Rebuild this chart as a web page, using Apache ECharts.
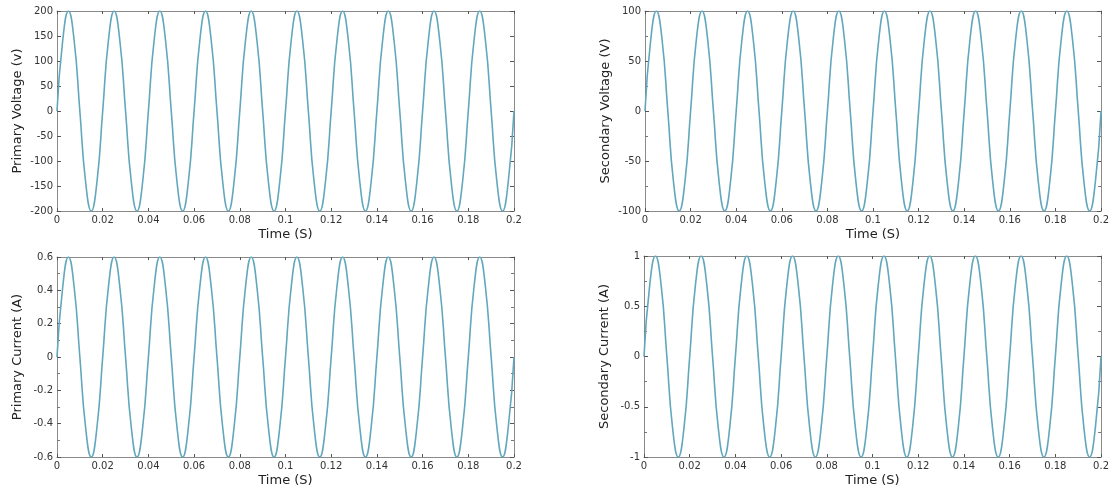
<!DOCTYPE html>
<html>
<head>
<meta charset="utf-8">
<script src="https://cdn.jsdelivr.net/npm/echarts@6/dist/echarts.min.js"></script>
<style>
  html, body { margin: 0; padding: 0; background: #fff; }
  #main { width: 1112px; height: 488px; }
</style>
</head>
<body>
<div id="main"></div>
<script>
// time samples (s), one every 1/8 of a 50 Hz cycle
var times = [
  0, 0.0025, 0.005, 0.0075, 0.01, 0.0125, 0.015, 0.0175,
  0.02, 0.0225, 0.025, 0.0275, 0.03, 0.0325, 0.035, 0.0375,
  0.04, 0.0425, 0.045, 0.0475, 0.05, 0.0525, 0.055, 0.0575,
  0.06, 0.0625, 0.065, 0.0675, 0.07, 0.0725, 0.075, 0.0775,
  0.08, 0.0825, 0.085, 0.0875, 0.09, 0.0925, 0.095, 0.0975,
  0.1, 0.1025, 0.105, 0.1075, 0.11, 0.1125, 0.115, 0.1175,
  0.12, 0.1225, 0.125, 0.1275, 0.13, 0.1325, 0.135, 0.1375,
  0.14, 0.1425, 0.145, 0.1475, 0.15, 0.1525, 0.155, 0.1575,
  0.16, 0.1625, 0.165, 0.1675, 0.17, 0.1725, 0.175, 0.1775,
  0.18, 0.1825, 0.185, 0.1875, 0.19, 0.1925, 0.195, 0.1975,
  0.2
];

var primaryVoltage = [
  0, 141, 200, 141, 0, -141, -200, -141,
  0, 141, 200, 141, 0, -141, -200, -141,
  0, 141, 200, 141, 0, -141, -200, -141,
  0, 141, 200, 141, 0, -141, -200, -141,
  0, 141, 200, 141, 0, -141, -200, -141,
  0, 141, 200, 141, 0, -141, -200, -141,
  0, 141, 200, 141, 0, -141, -200, -141,
  0, 141, 200, 141, 0, -141, -200, -141,
  0, 141, 200, 141, 0, -141, -200, -141,
  0, 141, 200, 141, 0, -141, -200, -141,
  0
];

var secondaryVoltage = [
  0, 71, 100, 71, 0, -71, -100, -71,
  0, 71, 100, 71, 0, -71, -100, -71,
  0, 71, 100, 71, 0, -71, -100, -71,
  0, 71, 100, 71, 0, -71, -100, -71,
  0, 71, 100, 71, 0, -71, -100, -71,
  0, 71, 100, 71, 0, -71, -100, -71,
  0, 71, 100, 71, 0, -71, -100, -71,
  0, 71, 100, 71, 0, -71, -100, -71,
  0, 71, 100, 71, 0, -71, -100, -71,
  0, 71, 100, 71, 0, -71, -100, -71,
  0
];

var primaryCurrent = [
  0, 0.42, 0.6, 0.42, 0, -0.42, -0.6, -0.42,
  0, 0.42, 0.6, 0.42, 0, -0.42, -0.6, -0.42,
  0, 0.42, 0.6, 0.42, 0, -0.42, -0.6, -0.42,
  0, 0.42, 0.6, 0.42, 0, -0.42, -0.6, -0.42,
  0, 0.42, 0.6, 0.42, 0, -0.42, -0.6, -0.42,
  0, 0.42, 0.6, 0.42, 0, -0.42, -0.6, -0.42,
  0, 0.42, 0.6, 0.42, 0, -0.42, -0.6, -0.42,
  0, 0.42, 0.6, 0.42, 0, -0.42, -0.6, -0.42,
  0, 0.42, 0.6, 0.42, 0, -0.42, -0.6, -0.42,
  0, 0.42, 0.6, 0.42, 0, -0.42, -0.6, -0.42,
  0
];

var secondaryCurrent = [
  0, 0.71, 1, 0.71, 0, -0.71, -1, -0.71,
  0, 0.71, 1, 0.71, 0, -0.71, -1, -0.71,
  0, 0.71, 1, 0.71, 0, -0.71, -1, -0.71,
  0, 0.71, 1, 0.71, 0, -0.71, -1, -0.71,
  0, 0.71, 1, 0.71, 0, -0.71, -1, -0.71,
  0, 0.71, 1, 0.71, 0, -0.71, -1, -0.71,
  0, 0.71, 1, 0.71, 0, -0.71, -1, -0.71,
  0, 0.71, 1, 0.71, 0, -0.71, -1, -0.71,
  0, 0.71, 1, 0.71, 0, -0.71, -1, -0.71,
  0, 0.71, 1, 0.71, 0, -0.71, -1, -0.71,
  0
];

var xName = 'Time (S)';

// one entry per panel: name, values, y range and step
var panels = [
  { name: 'Primary Voltage (v)', values: primaryVoltage, min: -200, max: 200, step: 50, minor: 1 },
  { name: 'Secondary Voltage (V)', values: secondaryVoltage, min: -100, max: 100, step: 50, minor: 2 },
  { name: 'Primary Current (A)', values: primaryCurrent, min: -0.6, max: 0.6, step: 0.2, minor: 2 },
  { name: 'Secondary Current (A)', values: secondaryCurrent, min: -1, max: 1, step: 0.5, minor: 2 }
];

var grids = [
  { left: 57, top: 11, width: 457, height: 200 },
  { left: 645, top: 11, width: 457, height: 200 },
  { left: 57, top: 257, width: 457, height: 201 },
  { left: 644, top: 256, width: 458, height: 201 }
];

var FONT = 'DejaVu Sans';
var axisColor = '#8a8a8a';
var lineColor = '#62a7bc';

function fmt(v) {
  return String(+v.toFixed(3));
}

var xAxes = [];
var yAxes = [];
var series = [];

panels.forEach(function (p, i) {
  var pts = times.map(function (t, k) { return [t, p.values[k]]; });

  // bottom axis with labels
  xAxes.push({
    type: 'value', gridIndex: i, position: 'bottom', min: 0, max: 0.2, interval: 0.02,
    name: xName, nameLocation: 'middle', nameGap: 17,
    nameTextStyle: { fontFamily: FONT, fontSize: 13, color: '#222' },
    axisLine: { onZero: false, lineStyle: { color: axisColor } },
    axisTick: { inside: true, length: 3, lineStyle: { color: '#555' } },
    axisLabel: { fontFamily: FONT, fontSize: 10, color: '#333', margin: 4, formatter: fmt },
    splitLine: { show: false }
  });
  // top mirror axis
  xAxes.push({
    type: 'value', gridIndex: i, position: 'top', min: 0, max: 0.2, interval: 0.02,
    axisLine: { onZero: false, lineStyle: { color: axisColor } },
    axisTick: { inside: true, length: 3, lineStyle: { color: '#555' } },
    axisLabel: { show: false },
    splitLine: { show: false }
  });

  var minorTick = { show: p.minor > 1, splitNumber: p.minor, length: 3, lineStyle: { color: '#777' } };

  yAxes.push({
    type: 'value', gridIndex: i, position: 'left', min: p.min, max: p.max, interval: p.step,
    name: p.name, nameLocation: 'middle', nameGap: 33,
    nameTextStyle: { fontFamily: FONT, fontSize: 13, color: '#222' },
    axisLine: { show: true, onZero: false, lineStyle: { color: axisColor } },
    axisTick: { show: true, inside: true, length: 4, lineStyle: { color: '#555' } },
    minorTick: minorTick,
    axisLabel: { fontFamily: FONT, fontSize: 10, color: '#333', margin: 4, formatter: fmt },
    splitLine: { show: false }
  });
  yAxes.push({
    type: 'value', gridIndex: i, position: 'right', min: p.min, max: p.max, interval: p.step,
    axisLine: { show: true, onZero: false, lineStyle: { color: axisColor } },
    axisTick: { show: true, inside: true, length: 4, lineStyle: { color: '#555' } },
    minorTick: minorTick,
    axisLabel: { show: false },
    splitLine: { show: false }
  });

  series.push({
    type: 'line',
    xAxisIndex: i * 2,
    yAxisIndex: i * 2,
    data: pts,
    smooth: 0.5,
    symbol: 'none',
    lineStyle: { color: lineColor, width: 1.6 },
    animation: false
  });
});

var option = {
  backgroundColor: '#fff',
  animation: false,
  grid: grids,
  xAxis: xAxes,
  yAxis: yAxes,
  series: series
};

var chart = echarts.init(document.getElementById('main'));
chart.setOption(option);
</script>
</body>
</html>
